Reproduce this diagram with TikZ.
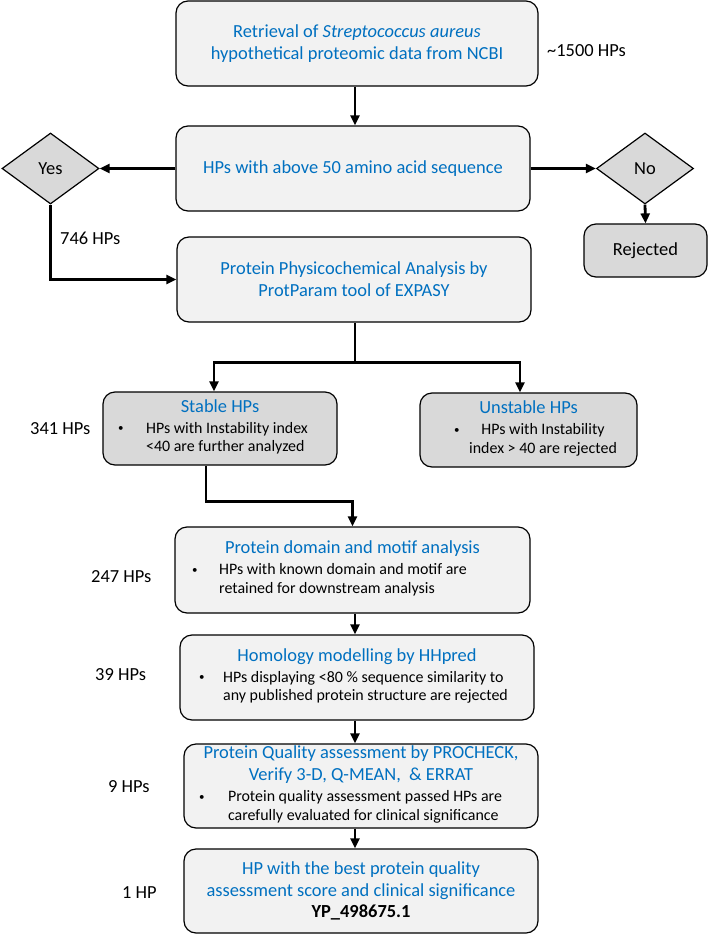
\documentclass[tikz,border=0pt]{standalone}
\usepackage{fontspec}
\setmainfont{Carlito}
\usetikzlibrary{arrows.meta,shapes.geometric,calc}
\definecolor{hpblue}{HTML}{0070C0}
\definecolor{boxlight}{HTML}{F2F2F2}
\definecolor{boxdark}{HTML}{D9D9D9}
\newcommand{\titlesize}{\fontsize{18.5}{22}\selectfont}
\newcommand{\notesize}{\fontsize{16}{19}\selectfont}
% small bullet, then a block of lines, then some space on the right
\newcommand{\smallbullet}{{\fontsize{11}{11}\selectfont\raisebox{1.4bp}{\textbullet}}}
\newcommand{\bitem}[4][l]{\makebox[#2][l]{\smallbullet}\begin{tabular}[t]{@{}#1@{}}#4\end{tabular}\hspace*{#3}}
\tikzset{
	>={Triangle[length=10bp,width=9bp]},
	stepbox/.style={draw, line width=1.2bp, rounded corners=12bp, fill=boxlight,
		align=center, font=\titlesize, text=hpblue, inner sep=0pt},
	graybox/.style={stepbox, fill=boxdark},
	decision/.style={diamond, draw, line width=1.2bp, fill=boxdark, font=\titlesize,
		inner sep=0pt, minimum width=97bp, minimum height=71bp},
	conn/.style={->, line width=2.8bp},
	count/.style={anchor=west, font=\titlesize, inner sep=0pt}
}

\begin{document}
\begin{tikzpicture}[x=1bp,y=-1bp]
	\useasboundingbox (0,0) rectangle (708,936);
	
	% retrieval and length filter
	\node[stepbox, minimum width=362bp, minimum height=85bp] (retr) at (357,43.5)
	{Retrieval of \textit{Streptococcus aureus}\\hypothetical proteomic data from NCBI};
	\node[count] (nall) at (547,51) {\textasciitilde 1500 HPs};
	
	\node[stepbox, minimum width=354bp, minimum height=85bp] (len) at (353,168.5)
	{HPs with above 50 amino acid sequence};
	
	\node[decision] (yes) at (50.5,168.5) {Yes};
	\node[decision] (no) at (645,168.5) {No};
	\node[graybox, text=black, minimum width=123bp, minimum height=53bp] (rej) at (645.5,250.5) {Rejected};
	
	% physicochemical analysis
	\node[stepbox, minimum width=354bp, minimum height=85bp] (phys) at (354,279.5)
	{Protein Physicochemical Analysis by\\ProtParam tool of EXPASY};
	\node[count] (nyes) at (60,238) {746 HPs};
	
	\node[graybox, minimum width=234bp, minimum height=73bp] (stable) at (220,428.5)
	{Stable HPs\\[-1bp] {\color{black}\notesize\bitem{28bp}{14bp}{HPs with Instability index\\<40 are further analyzed}}};
	\node[count] (nstable) at (30,429) {341 HPs};
	
	\node[graybox, minimum width=217bp, minimum height=74bp] (unstable) at (528.5,430)
	{Unstable HPs\\[-1bp] {\color{black}\notesize\bitem[c]{15bp}{-14bp}{HPs with Instability\\index > 40 are rejected}}};
	
	% downstream steps
	\node[stepbox, minimum width=355bp, minimum height=86bp] (motif) at (352.5,570)
	{Protein domain and motif analysis\\[-1bp] {\color{black}\notesize\bitem{27bp}{46bp}{HPs with known domain and motif are\\retained for downstream analysis}}};
	\node[count] (nmotif) at (91,577) {247 HPs};
	
	\node[stepbox, minimum width=354bp, minimum height=85bp] (homol) at (357,677.5)
	{Homology modelling by HHpred\\[-1bp] {\color{black}\notesize\bitem{24bp}{7bp}{HPs displaying <80 \% sequence similarity to\\any published protein structure are rejected}}};
	\node[count] (nhomol) at (95,675) {39 HPs};
	
	\node[stepbox, minimum width=354bp, minimum height=84bp] (qual) at (361,786)
	{Protein Quality assessment by PROCHECK,\\Verify 3-D, Q-MEAN,\ \ \& ERRAT\\[-1bp] {\color{black}\notesize\bitem{29bp}{21bp}{Protein quality assessment passed HPs are\\carefully evaluated for clinical significance}}};
	\node[count] (nqual) at (108,787) {9 HPs};
	
	\node[stepbox, minimum width=354bp, minimum height=84bp] (best) at (361,891)
	{HP with the best protein quality\\assessment score and clinical significance\\[-1bp] {\color{black}\bfseries YP\_498675.1}};
	\node[count] (nbest) at (122,893) {1 HP};
	
	% connectors
	\draw[conn] ([xshift=-2bp]retr.south) -- ([xshift=-2bp]retr.south |- len.north);
	\draw[conn] (len.west) -- (yes.east);
	\draw[conn] (len.east) -- (no.west);
	\draw[conn] (no.south) -- (rej.north);
	\draw[conn] (yes.south) |- (phys.west);
	
	\draw[line width=2.8bp] ([xshift=1bp]phys.south) -- ++(0,40) coordinate (split);
	\draw[conn] (split) -| ([xshift=-6bp]stable.north);
	\draw[conn] (split) -| ([xshift=-8.5bp]unstable.north);
	
	\draw[conn] ([xshift=-14bp]stable.south) -- ++(0,36) -| (motif.north);
	\draw[conn] ([xshift=2.5bp]motif.south) -- ([xshift=2.5bp]motif.south |- homol.north);
	\draw[conn] ([xshift=-2bp]homol.south) -- ([xshift=-2bp]homol.south |- qual.north);
	\draw[conn] ([xshift=-6bp]qual.south) -- ([xshift=-6bp]qual.south |- best.north);
	
\end{tikzpicture}
\end{document}
